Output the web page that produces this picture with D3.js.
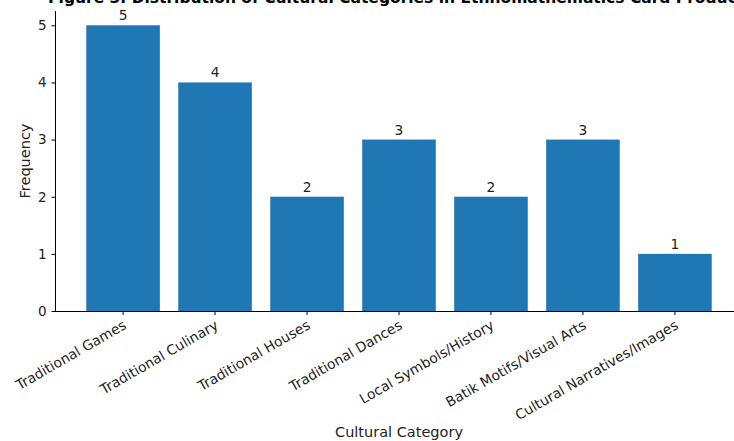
<!DOCTYPE html>
<html>
<head>
<meta charset="utf-8">
<script src="https://cdn.jsdelivr.net/npm/d3@7"></script>
<style>
  body { margin: 0; background: #fff; }
  svg { display: block; font-family: "DejaVu Sans", sans-serif; }
</style>
</head>
<body>
<div class="chart"></div>
<script>
// data
const categories = ['Traditional Games', 'Traditional Culinary', 'Traditional Houses',
  'Traditional Dances', 'Local Symbols/History', 'Batik Motifs/Visual Arts', 'Cultural Narratives/Images'];
const counts = [5, 4, 2, 3, 2, 3, 1];
const yTicks = [0, 1, 2, 3, 4, 5];

const W = 734, H = 441;
const margin = {l: 55, t: 11, b: 130};
const axisRight = 743; // axes runs past the picture edge in the original
const baseY = H - margin.b;

const svg = d3.select('.chart').append('svg')
  .attr('width', W)
  .attr('height', H);

// matplotlib-ish x range: bars at integer positions, width .8, 5% margin
const x = d3.scaleLinear()
  .domain([-0.74, categories.length - 1 + 0.74])
  .range([margin.l, axisRight]);
const y = d3.scaleLinear()
  .domain([0, 5.25])
  .range([baseY, margin.t]);
const bw = x(0.4) - x(-0.4);

svg.append('g').selectAll('rect')
  .data(counts)
  .join('rect')
  .attr('x', (d, i) => x(i) - bw / 2)
  .attr('y', d => y(d))
  .attr('width', bw)
  .attr('height', d => y(0) - y(d))
  .attr('fill', '#1f77b4');

// value labels
svg.append('g').selectAll('text')
  .data(counts)
  .join('text')
  .attr('x', (d, i) => x(i))
  .attr('y', d => y(d) - 5)
  .attr('text-anchor', 'middle')
  .attr('font-size', '13.8px')
  .attr('fill', '#222')
  .text(d => d);

// y axis
const yAxis = d3.axisLeft(y).tickValues(yTicks).tickSize(3.5).tickPadding(5).tickFormat(d3.format('d'));
const gy = svg.append('g')
  .attr('transform', `translate(${margin.l},0)`)
  .call(yAxis);
gy.select('.domain').attr('d', `M0.5,${y(5.25)}V${baseY}`).attr('stroke', '#000');
gy.selectAll('.tick line').attr('stroke', '#000');
gy.selectAll('.tick text').attr('font-size', '13.5px').attr('fill', '#222').attr('font-family', '"DejaVu Sans"');

// x axis
const gx = svg.append('g')
  .attr('transform', `translate(0,${baseY})`);
gx.append('line')
  .attr('x1', margin.l).attr('x2', axisRight)
  .attr('y1', 0.5).attr('y2', 0.5)
  .attr('stroke', '#000');
const xt = gx.selectAll('.tick')
  .data(categories)
  .join('g')
  .attr('class', 'tick')
  .attr('transform', (d, i) => `translate(${x(i)},0)`);
xt.append('line').attr('y1', 0).attr('y2', 4).attr('stroke', '#000');
xt.append('text')
  .attr('transform', 'translate(-1,8) rotate(-30)')
  .attr('text-anchor', 'end')
  .attr('dy', '0.75em')
  .attr('font-size', '13.8px')
  .attr('fill', '#222')
  .text(d => d);

// axis titles
svg.append('text')
  .attr('x', (margin.l + axisRight) / 2)
  .attr('y', 437)
  .attr('text-anchor', 'middle')
  .attr('font-size', '14.5px')
  .attr('fill', '#222')
  .text('Cultural Category');

svg.append('text')
  .attr('transform', `translate(30,${(margin.t + baseY) / 2}) rotate(-90)`)
  .attr('text-anchor', 'middle')
  .attr('font-size', '14.5px')
  .attr('fill', '#222')
  .text('Frequency');

// title, clipped at the top and right in the original
svg.append('text')
  .attr('x', 48)
  .attr('y', 3)
  .attr('font-size', '15.5px')
  .attr('font-weight', 'bold')
  .attr('fill', '#000')
  .text('Figure 3. Distribution of Cultural Categories in Ethnomathematics Card Products');
</script>
</body>
</html>
